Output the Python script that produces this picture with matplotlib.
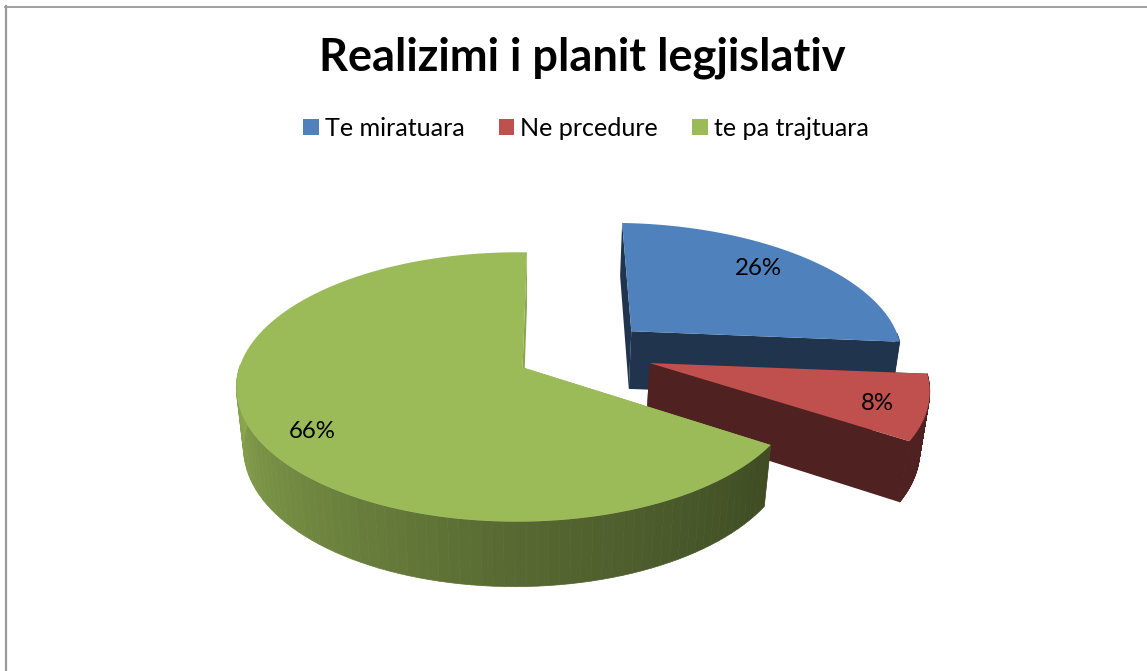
import numpy as np
import matplotlib
matplotlib.use('Agg')
import matplotlib.pyplot as plt
from matplotlib.patches import Polygon, Patch

# chart data
title = 'Realizimi i planit legjislativ'
labels = ['Te miratuara', 'Ne prcedure', 'te pa trajtuara']
values = [26, 8, 66]
colors = ['#4F81BD', '#C0504D', '#9BBB59']
explode = [0.255, 0.255, 0.25]
first_angle = 1.0

# fake 3D camera, in pixels
cx, cy = 524, 367
ax_x, ax_y = 277.9, 131.7
persp_x, persp_y, persp_z = 0.018, 0.145, 0.025
depth = 61
centre = (0.216, 0.1135)
# slices are not quite the same size in the picture
radius = [1.025, 1.025, 1.0]

# how dark the outer wall gets, by angle clockwise from 12 o'clock
shade_angles = [0, 125, 180, 270, 360]
shade_levels = [0.41, 0.41, 0.56, 0.90, 0.90]
# flat shade of the two cut walls of each slice
wall_levels = [0.41, 0.41, 0.88]
# where the percent labels sit: nudge along the rim in degrees, fraction of radius
label_nudge = [-3.5, 2, -5]
label_radius = [0.8, 0.85, 0.83]


def project(x, y, z=0.0):
    w = 1 + persp_x * x + persp_y * y + persp_z * z
    return cx + ax_x * x / w, cy + (-ax_y * y + depth * z) / w


def darker(color, level):
    rgb = np.array(matplotlib.colors.to_rgb(color))
    return tuple(rgb * level)


fig = plt.figure(figsize=(11.47, 6.71), dpi=100)
ax = fig.add_axes([0, 0, 1, 1])
ax.set_xlim(0, 1147)
ax.set_ylim(671, 0)
ax.axis('off')

# frame of the chart area, only left and top are on the picture
ax.plot([6, 6], [6, 671], color='#999999', lw=1.6)
ax.plot([5, 1147], [6.5, 6.5], color='#999999', lw=1.3)

start = first_angle
for i_slice, (value, color) in enumerate(zip(values, colors)):
    exp = explode[i_slice]
    wall = wall_levels[i_slice]
    span = 360 * value / sum(values)
    mid = np.radians(start + span / 2)
    ox = centre[0] + exp * np.sin(mid)
    oy = centre[1] + exp * np.cos(mid)
    thetas = np.radians(np.linspace(start, start + span, 120))
    rim_x = ox + radius[i_slice] * np.sin(thetas)
    rim_y = oy + radius[i_slice] * np.cos(thetas)

    # cut wall at the start of the slice
    quad = [project(ox, oy), project(rim_x[0], rim_y[0]),
            project(rim_x[0], rim_y[0], 1), project(ox, oy, 1)]
    ax.add_patch(Polygon(quad, fc=darker(color, wall), ec='none', zorder=1))

    # outer wall, in small strips to get the gradient, back part is hidden
    for i in range(len(thetas) - 1):
        if np.cos(thetas[i]) > 0:
            continue
        quad = [project(rim_x[i], rim_y[i]), project(rim_x[i + 1], rim_y[i + 1]),
                project(rim_x[i + 1], rim_y[i + 1], 1), project(rim_x[i], rim_y[i], 1)]
        level = np.interp(np.degrees(thetas[i]) % 360, shade_angles, shade_levels)
        shade = darker(color, level)
        ax.add_patch(Polygon(quad, fc=shade, ec=shade, lw=0.5, zorder=1))

    # cut wall at the end of the slice
    quad = [project(ox, oy), project(rim_x[-1], rim_y[-1]),
            project(rim_x[-1], rim_y[-1], 1), project(ox, oy, 1)]
    ax.add_patch(Polygon(quad, fc=darker(color, wall), ec='none', zorder=1))

    # top face
    top = [project(ox, oy)] + [project(a, b) for a, b in zip(rim_x, rim_y)]
    ax.add_patch(Polygon(top, fc=color, ec='none', zorder=1))

    # percent label
    lab = mid + np.radians(label_nudge[i_slice])
    r = label_radius[i_slice]
    lx, ly = project(ox + r * np.sin(lab), oy + r * np.cos(lab))
    ax.text(lx, ly, f'{value}%', ha='center', va='center', fontsize=17.3,
            family='Lato', color='black', zorder=2)
    start += span

ax.text(582, 58, title, ha='center', va='center', fontsize=32.5, fontweight='bold',
        family='Lato', color='black')

handles = [Patch(facecolor=c, label=l) for c, l in zip(colors, labels)]
ax.legend(handles=handles, ncol=3, loc='center', bbox_to_anchor=(586 / 1147, 1 - 128 / 671),
          frameon=False, prop={'family': 'Lato', 'size': 18.1}, handlelength=0.62, handleheight=0.62,
          handletextpad=0.24, columnspacing=1.35)

fig.savefig('out.png', dpi=100)
